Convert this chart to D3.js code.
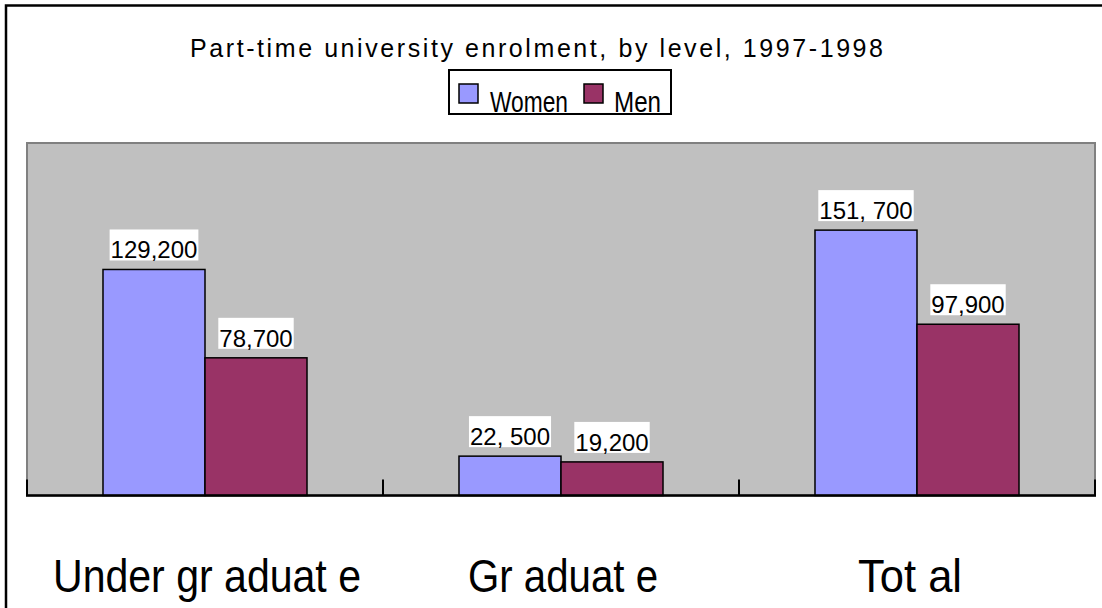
<!DOCTYPE html>
<html>
<head>
<meta charset="utf-8">
<script src="https://cdn.jsdelivr.net/npm/d3@7"></script>
<style>
html,body{margin:0;padding:0;background:#fff;}
svg{display:block;}
text{font-family:"Liberation Sans", Arial, sans-serif;}
</style>
</head>
<body>
<svg id="chart" width="1102" height="608"></svg>
<script>
const title = "Part-time university enrolment, by level, 1997-1998";
const categories = ["Undergraduate", "Graduate", "Total"];
const categoryLabels = ["Under gr aduat e", "Gr aduat e", "Tot al"];
const seriesNames = ["Women", "Men"];
const women = [129200, 22500, 151700];
const men = [78700, 19200, 97900];
const womenLabels = ["129,200", "22, 500", "151, 700"];
const menLabels = ["78,700", "19,200", "97,900"];
const colors = ["#9999FF", "#993366"];

const svg = d3.select("#chart");
const W = 1102, H = 608;
const plot = {x0: 27, x1: 1095, y0: 143, y1: 495.5};

// outer border
svg.append("rect").attr("x", 6).attr("y", 5.5).attr("width", 1300).attr("height", 800)
  .attr("fill", "#fff").attr("stroke", "#000").attr("stroke-width", 2.5);

// title
svg.append("text").attr("x", 536.5).attr("y", 57).attr("text-anchor", "middle")
  .attr("font-size", 25).attr("fill", "#000")
  .attr("textLength", 693).attr("lengthAdjust", "spacing")
  .text(title);

// legend
const lg = svg.append("g");
lg.append("rect").attr("x", 449).attr("y", 70).attr("width", 222).attr("height", 44)
  .attr("fill", "#fff").attr("stroke", "#000").attr("stroke-width", 2);
const legendItems = [
  {sx: 459, tx: 490, tw: 78},
  {sx: 584, tx: 614, tw: 47}
];
seriesNames.forEach((s, i) => {
  const it = legendItems[i];
  lg.append("rect").attr("x", it.sx).attr("y", 84).attr("width", 19).attr("height", 19)
    .attr("fill", colors[i]).attr("stroke", "#000").attr("stroke-width", 1.5);
  lg.append("text").attr("x", it.tx).attr("y", 111.5).attr("font-size", 30)
    .attr("textLength", it.tw).attr("lengthAdjust", "spacingAndGlyphs")
    .attr("fill", "#000").text(s);
});

// scales
const x = d3.scaleBand().domain(categories).range([plot.x0, plot.x1]).paddingInner(0).paddingOuter(0);
const xs = d3.scaleBand().domain(seriesNames).range([0, x.bandwidth()]).paddingInner(0).paddingOuter(0.745);
const y = d3.scaleLinear().domain([0, 201500]).range([plot.y1, plot.y0]);

// plot area
svg.append("rect").attr("x", plot.x0).attr("y", plot.y0)
  .attr("width", plot.x1 - plot.x0).attr("height", plot.y1 - plot.y0)
  .attr("fill", "#C0C0C0").attr("stroke", "#808080").attr("stroke-width", 2);

// bars
const rows = categories.map((c, i) => ({c, vals: [women[i], men[i]], labs: [womenLabels[i], menLabels[i]]}));
const groups = svg.selectAll("g.cat").data(rows).enter().append("g").attr("class", "cat")
  .attr("transform", d => `translate(${x(d.c)},0)`);

groups.each(function(d) {
  const g = d3.select(this);
  seriesNames.forEach((s, j) => {
    const v = d.vals[j];
    g.append("rect").attr("x", xs(s)).attr("y", y(v))
      .attr("width", xs.bandwidth()).attr("height", y(0) - y(v))
      .attr("fill", colors[j]).attr("stroke", "#000").attr("stroke-width", 1.5);
  });
});

// value labels
groups.each(function(d) {
  const g = d3.select(this);
  seriesNames.forEach((s, j) => {
    const v = d.vals[j];
    const cx = xs(s) + xs.bandwidth() / 2;
    const base = y(v) - 11;
    const bg = g.append("rect").attr("fill", "#fff");
    const t = g.append("text").attr("x", cx).attr("y", base).attr("text-anchor", "middle")
      .attr("font-size", 24).attr("fill", "#000").text(d.labs[j]);
    const bb = t.node().getBBox();
    bg.attr("x", bb.x - 1).attr("y", base - 29).attr("width", bb.width + 2).attr("height", 31);
  });
});

// x axis
svg.append("line").attr("x1", plot.x0 - 1).attr("x2", plot.x1 + 1)
  .attr("y1", plot.y1).attr("y2", plot.y1).attr("stroke", "#000").attr("stroke-width", 2.5);
const tickPos = categories.map(c => x(c)).concat([x(categories[categories.length - 1]) + x.bandwidth()]);
svg.selectAll("line.tick").data(tickPos).enter().append("line").attr("class", "tick")
  .attr("x1", d => d).attr("x2", d => d).attr("y1", plot.y1 - 16).attr("y2", plot.y1)
  .attr("stroke", "#000").attr("stroke-width", 2);

// category labels
const catWidths = [308, 190, 104];
const catOffsets = [2, 2, -7];
svg.selectAll("text.cat").data(categories).enter().append("text").attr("class", "cat")
  .attr("x", (d, i) => x(d) + x.bandwidth() / 2 + catOffsets[i]).attr("y", 591.5)
  .attr("text-anchor", "middle").attr("font-size", 46).attr("fill", "#000")
  .attr("textLength", (d, i) => catWidths[i]).attr("lengthAdjust", "spacingAndGlyphs")
  .text((d, i) => categoryLabels[i]);
</script>
</body>
</html>
